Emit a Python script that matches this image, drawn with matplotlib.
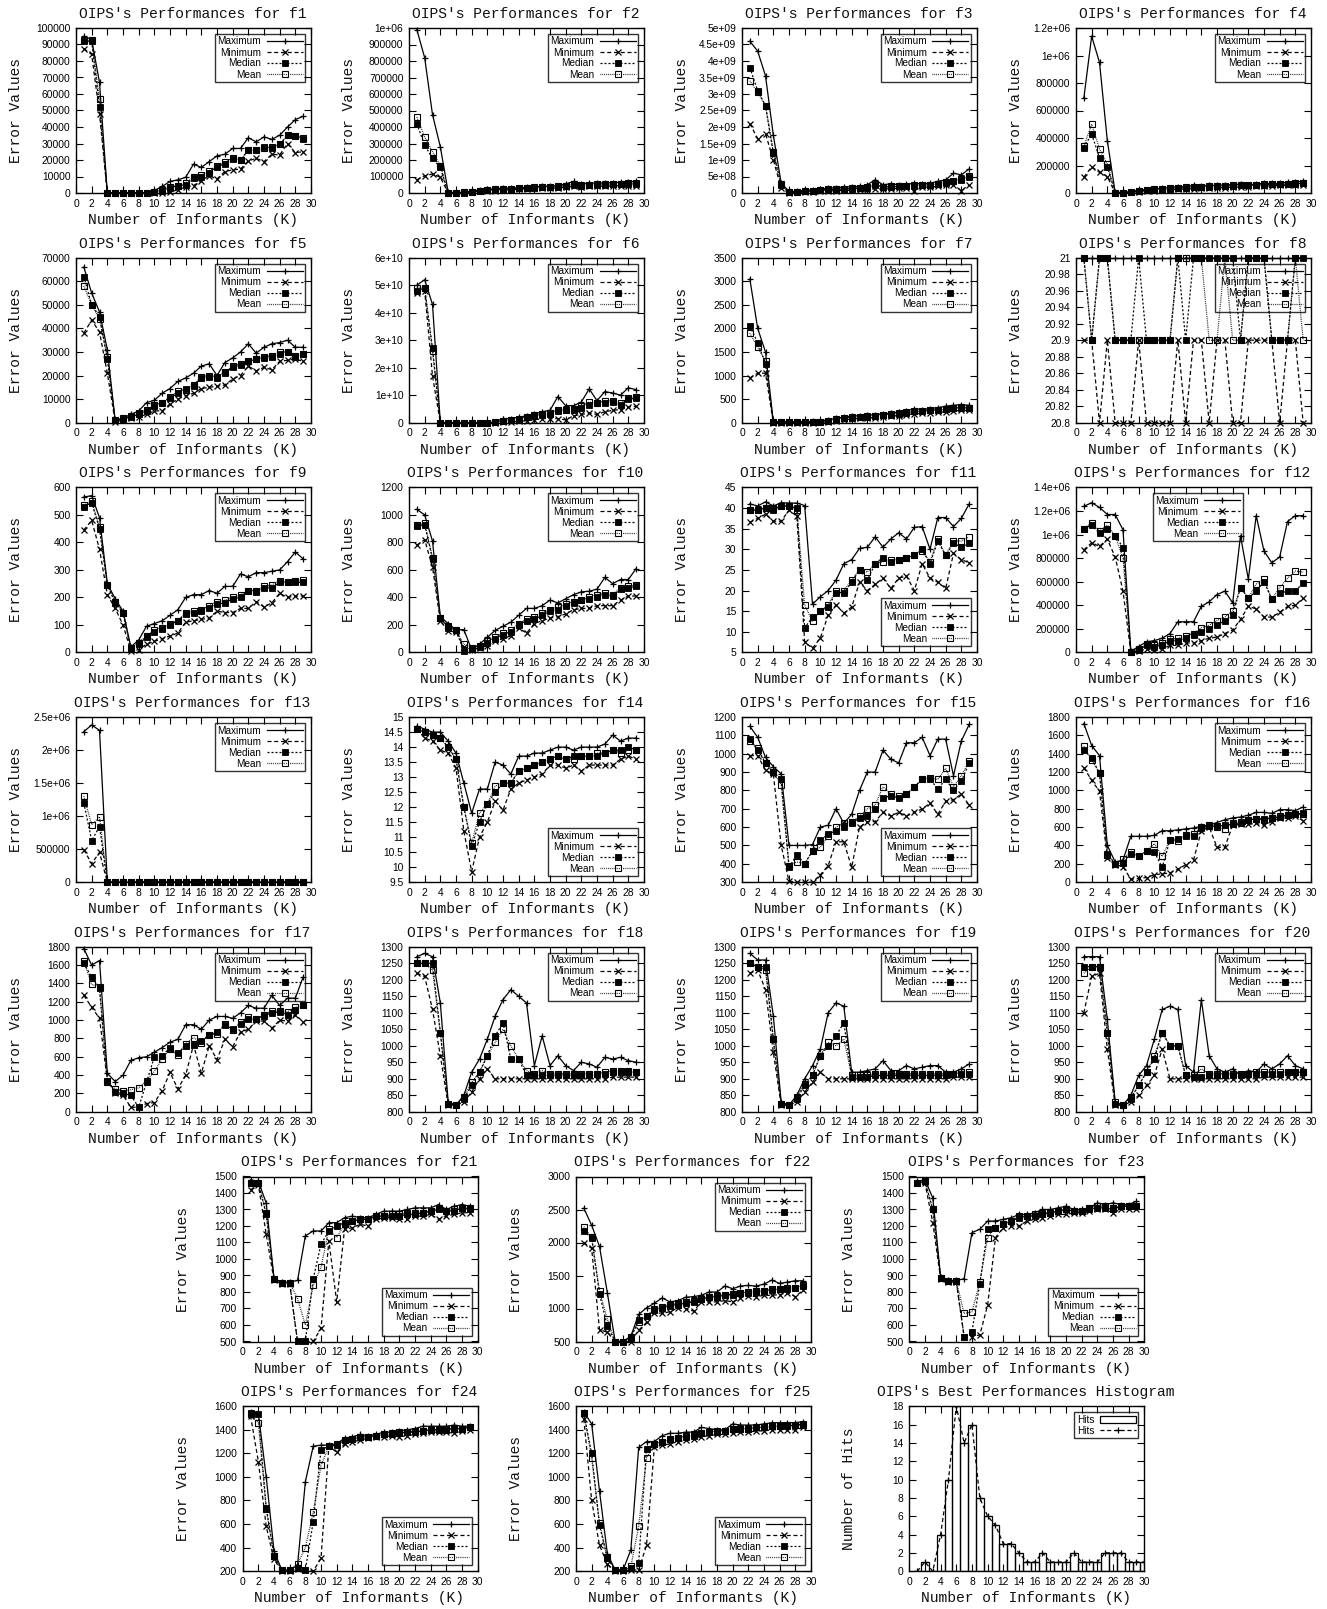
import matplotlib
matplotlib.use("Agg")
import matplotlib.pyplot as plt
from matplotlib.patches import Rectangle
from matplotlib.ticker import FuncFormatter

# ---------------- data (K = 1..29) ----------------
K = list(range(1, 30))

f1_max = [95000, 93000, 67000, 0, 0, 0, 0, 0, 0, 1500, 4000, 7000, 8000, 9500, 17500, 15500, 19000, 22500, 23500, 27000, 27000, 33500, 31000, 34000, 32500, 35000, 40000, 44500, 46500]
f1_min = [87500, 84000, 48000, 0, 0, 0, 0, 0, 0, 0, 0, 500, 2000, 3500, 4500, 7500, 10500, 8500, 13000, 14000, 14500, 19500, 21000, 19000, 23500, 23000, 30000, 24500, 25000]
f1_med = [92000, 92000, 52000, 0, 0, 0, 0, 0, 0, 500, 1500, 3000, 4500, 5000, 9000, 10000, 12000, 16000, 17500, 20500, 20000, 26000, 26000, 28000, 27500, 29500, 35000, 34500, 33000]
f1_mean = [92500, 92500, 57000, 0, 0, 0, 0, 0, 0, 800, 2000, 3500, 4500, 6000, 9500, 11000, 13500, 16500, 18500, 21500, 20000, 26000, 26000, 27000, 28000, 29500, 35000, 34500, 33500]

f2_max = [990e3, 820e3, 475e3, 280e3, 5e3, 2e3, 5e3, 12e3, 18e3, 22e3, 25e3, 30e3, 30e3, 32e3, 35e3, 38e3, 40e3, 42e3, 45e3, 55e3, 70e3, 55e3, 60e3, 60e3, 62e3, 62e3, 65e3, 68e3, 70e3]
f2_min = [80e3, 105e3, 115e3, 95e3, 0, 0, 2e3, 5e3, 10e3, 12e3, 15e3, 18e3, 20e3, 22e3, 25e3, 28e3, 28e3, 30e3, 32e3, 35e3, 40e3, 38e3, 40e3, 40e3, 42e3, 42e3, 45e3, 45e3, 45e3]
f2_med = [420e3, 290e3, 210e3, 155e3, 0, 0, 3e3, 8e3, 12e3, 18e3, 20e3, 25e3, 25e3, 28e3, 30e3, 32e3, 35e3, 35e3, 38e3, 42e3, 50e3, 45e3, 48e3, 50e3, 50e3, 52e3, 52e3, 55e3, 55e3]
f2_mean = [460e3, 340e3, 250e3, 165e3, 0, 0, 4e3, 9e3, 14e3, 20e3, 22e3, 27e3, 27e3, 30e3, 32e3, 34e3, 37e3, 38e3, 40e3, 45e3, 55e3, 48e3, 50e3, 52e3, 53e3, 55e3, 56e3, 58e3, 60e3]

f3_max = [46e8, 43e8, 35.5e8, 17.5e8, 3e8, 0.5e8, 0.5e8, 0.8e8, 1e8, 1.2e8, 1.5e8, 1.6e8, 1.8e8, 1.9e8, 2e8, 2.5e8, 4e8, 2.5e8, 2.8e8, 2.5e8, 2.7e8, 2.9e8, 2.8e8, 3e8, 3.5e8, 4e8, 6e8, 5.5e8, 7.3e8]
f3_min = [21e8, 16.5e8, 18e8, 10e8, 1.5e8, 0, 0.2e8, 0.3e8, 0.4e8, 0.5e8, 0.6e8, 0.7e8, 0.8e8, 0.8e8, 1e8, 1e8, 1.2e8, 1.2e8, 1.3e8, 1.4e8, 1.5e8, 0.5e8, 1.8e8, 1.8e8, 2e8, 2.5e8, 2.5e8, 0.7e8, 2.5e8]
f3_med = [38e8, 31e8, 26.5e8, 12e8, 2.5e8, 0.2e8, 0.3e8, 0.5e8, 0.6e8, 0.8e8, 1e8, 1.1e8, 1.2e8, 1.3e8, 1.5e8, 1.6e8, 2.5e8, 1.8e8, 1.9e8, 2e8, 2.1e8, 2.2e8, 2.3e8, 2.3e8, 2.6e8, 3e8, 3.5e8, 4e8, 5e8]
f3_mean = [34e8, 30.5e8, 26.5e8, 12.5e8, 2.7e8, 0.3e8, 0.4e8, 0.6e8, 0.7e8, 0.9e8, 1.1e8, 1.2e8, 1.3e8, 1.4e8, 1.6e8, 1.7e8, 2.6e8, 1.9e8, 2e8, 2.1e8, 2.2e8, 2.3e8, 2.4e8, 2.5e8, 2.8e8, 3.2e8, 3.7e8, 4.2e8, 5.2e8]

f4_max = [690e3, 1140e3, 950e3, 380e3, 5e3, 5e3, 10e3, 20e3, 25e3, 30e3, 35e3, 40e3, 45e3, 45e3, 55e3, 50e3, 55e3, 55e3, 60e3, 60e3, 65e3, 60e3, 65e3, 70e3, 70e3, 70e3, 80e3, 80e3, 85e3]
f4_min = [115e3, 190e3, 150e3, 120e3, 0, 0, 5e3, 10e3, 15e3, 18e3, 20e3, 25e3, 28e3, 30e3, 32e3, 35e3, 35e3, 38e3, 40e3, 42e3, 45e3, 45e3, 48e3, 50e3, 52e3, 55e3, 55e3, 58e3, 60e3]
f4_med = [330e3, 430e3, 255e3, 190e3, 2e3, 2e3, 8e3, 15e3, 20e3, 25e3, 28e3, 32e3, 35e3, 38e3, 42e3, 42e3, 45e3, 48e3, 50e3, 52e3, 55e3, 55e3, 58e3, 60e3, 62e3, 62e3, 65e3, 68e3, 70e3]
f4_mean = [340e3, 500e3, 320e3, 210e3, 3e3, 3e3, 10e3, 18e3, 23e3, 28e3, 31e3, 35e3, 38e3, 41e3, 45e3, 45e3, 48e3, 51e3, 53e3, 55e3, 58e3, 58e3, 61e3, 63e3, 65e3, 65e3, 68e3, 71e3, 73e3]

f5_max = [66e3, 55e3, 47e3, 31e3, 1e3, 2e3, 3.5e3, 5e3, 8.5e3, 9.5e3, 12.5e3, 14.5e3, 17.5e3, 19e3, 21e3, 24e3, 25e3, 20e3, 25.5e3, 27.5e3, 30e3, 33.5e3, 29.5e3, 32e3, 33.5e3, 34e3, 35e3, 32e3, 32e3]
f5_min = [38e3, 43.5e3, 38.5e3, 21e3, 0.5e3, 1e3, 2e3, 2.5e3, 3.5e3, 5e3, 5e3, 8e3, 10e3, 11.5e3, 12.5e3, 14.5e3, 15e3, 15.5e3, 16e3, 18.5e3, 20e3, 24e3, 22e3, 23.5e3, 22.5e3, 26e3, 26.5e3, 27e3, 26e3]
f5_med = [62e3, 50e3, 45e3, 27e3, 1e3, 1.5e3, 2.5e3, 3.5e3, 5e3, 7e3, 8.5e3, 10.5e3, 12.5e3, 14.5e3, 15.5e3, 19e3, 19.5e3, 19e3, 21e3, 23.5e3, 24.5e3, 26e3, 27e3, 27.5e3, 28e3, 29e3, 30e3, 28e3, 29e3]
f5_mean = [58e3, 50e3, 44e3, 28e3, 1e3, 1.8e3, 2.8e3, 4e3, 5.5e3, 7.5e3, 8.5e3, 11e3, 13.5e3, 14e3, 16e3, 19.5e3, 20e3, 19.5e3, 21.5e3, 24e3, 25e3, 26e3, 27e3, 28e3, 28.5e3, 30e3, 30e3, 28.5e3, 29e3]

f6_max = [50e9, 52e9, 43e9, 0, 0, 0, 0, 0, 0, 0, 0.3e9, 1.5e9, 1.5e9, 2e9, 2.5e9, 3.2e9, 4e9, 4.5e9, 9.5e9, 6.2e9, 6.2e9, 7.5e9, 12.3e9, 8e9, 11.3e9, 10.8e9, 10e9, 12.7e9, 12e9]
f6_min = [47e9, 48e9, 17e9, 0, 0, 0, 0, 0, 0, 0, 0, 0.2e9, 0.3e9, 0.5e9, 0.7e9, 1e9, 1.5e9, 1.5e9, 1.5e9, 1e9, 2.5e9, 3e9, 3.5e9, 3e9, 4e9, 4.5e9, 4.8e9, 5.7e9, 6e9]
f6_med = [48e9, 49e9, 27e9, 0, 0, 0, 0, 0, 0, 0, 0.1e9, 0.5e9, 1e9, 1.2e9, 2e9, 2.5e9, 2.8e9, 3.2e9, 4.2e9, 4.5e9, 4.5e9, 5.5e9, 6.5e9, 7e9, 7e9, 7.5e9, 6.5e9, 8.5e9, 9e9]
f6_mean = [49e9, 49e9, 26e9, 0, 0, 0, 0, 0, 0, 0, 0.15e9, 0.6e9, 1.1e9, 1.4e9, 2.2e9, 2.7e9, 3e9, 3.5e9, 4.5e9, 4.8e9, 5e9, 6e9, 7.5e9, 7.2e9, 7.8e9, 8e9, 7e9, 9e9, 9.2e9]

f7_max = [3050, 2000, 1500, 20, 20, 20, 20, 25, 30, 40, 60, 90, 120, 140, 150, 160, 170, 190, 200, 230, 250, 300, 280, 300, 320, 350, 370, 380, 370]
f7_min = [950, 1050, 1050, 0, 0, 0, 0, 0, 0, 10, 20, 40, 60, 80, 90, 100, 110, 120, 140, 150, 170, 190, 200, 210, 220, 230, 250, 260, 260]
f7_med = [2050, 1700, 1250, 5, 5, 5, 5, 8, 10, 20, 40, 60, 90, 110, 120, 130, 140, 160, 170, 190, 210, 240, 240, 260, 270, 290, 310, 320, 310]
f7_mean = [1900, 1600, 1300, 8, 8, 8, 8, 10, 12, 25, 45, 70, 100, 120, 130, 140, 150, 170, 180, 200, 220, 250, 250, 270, 280, 300, 320, 330, 320]

f8_max = [21, 21, 21, 21, 21, 21, 21, 21, 21, 21, 21, 21, 21, 21, 21, 21, 21, 21, 21, 21, 21, 21, 21, 21, 21, 21, 21, 21, 21]
f8_min = [20.9, 20.9, 20.8, 20.9, 20.8, 20.8, 20.8, 20.9, 20.8, 20.8, 20.8, 20.8, 20.9, 20.8, 20.9, 20.9, 20.8, 20.9, 20.9, 20.8, 20.8, 20.9, 20.9, 20.9, 20.9, 20.8, 20.9, 20.9, 20.8]
f8_med = [21, 20.9, 21, 21, 20.9, 20.9, 20.9, 21, 20.9, 20.9, 20.9, 20.9, 21, 20.9, 21, 21, 21, 21, 21, 21, 20.9, 21, 21, 21, 20.9, 20.9, 20.9, 21, 21]
f8_mean = [21, 20.9, 21, 21, 20.9, 20.9, 20.9, 20.9, 20.9, 20.9, 20.9, 20.9, 21, 21, 21, 21, 20.9, 20.9, 21, 20.9, 20.9, 21, 21, 21, 20.9, 20.9, 20.9, 21, 20.9]

f9_max = [565, 570, 490, 250, 195, 150, 20, 45, 95, 105, 115, 135, 155, 200, 210, 210, 225, 215, 240, 240, 285, 275, 290, 290, 295, 300, 330, 365, 340]
f9_min = [445, 480, 375, 210, 160, 100, 5, 10, 30, 40, 50, 60, 70, 110, 115, 120, 125, 150, 145, 145, 160, 160, 185, 165, 180, 215, 200, 205, 205]
f9_med = [530, 545, 450, 245, 180, 145, 15, 30, 55, 75, 85, 100, 115, 140, 145, 150, 160, 175, 180, 195, 200, 225, 220, 235, 235, 255, 255, 255, 255]
f9_mean = [535, 550, 455, 245, 185, 145, 15, 35, 60, 80, 90, 105, 115, 145, 150, 155, 170, 185, 190, 200, 210, 225, 225, 240, 245, 260, 255, 260, 265]

f10_max = [1040, 1000, 810, 260, 210, 165, 165, 20, 60, 110, 160, 190, 220, 270, 320, 320, 340, 380, 360, 390, 420, 440, 445, 460, 545, 500, 530, 530, 610]
f10_min = [780, 820, 620, 230, 155, 150, 40, 20, 30, 50, 80, 100, 120, 180, 140, 210, 230, 250, 260, 280, 310, 320, 320, 340, 340, 340, 380, 410, 410]
f10_med = [920, 930, 680, 250, 180, 160, 10, 25, 40, 70, 100, 130, 150, 200, 230, 240, 270, 300, 310, 340, 360, 380, 390, 400, 420, 410, 460, 470, 480]
f10_mean = [930, 940, 690, 250, 190, 160, 60, 30, 50, 80, 110, 140, 160, 210, 240, 260, 290, 310, 330, 350, 370, 380, 400, 420, 430, 420, 470, 480, 490]

f11_max = [41, 40.5, 41.5, 40.5, 41.3, 41.2, 41.2, 40.6, 16.7, 18.5, 20, 22.5, 26.5, 27.5, 30.2, 30.5, 33, 30.5, 32.5, 34, 32.5, 35.3, 35.5, 30, 37.7, 37.7, 35.5, 37.5, 41]
f11_min = [36.5, 37.5, 38.5, 36.8, 36.8, 39.5, 38, 7.5, 6, 8.5, 14, 16.5, 14.5, 16, 22, 20, 21.5, 23, 20.5, 23, 23.5, 20, 26.5, 23, 22, 20.5, 29, 27.5, 26.7]
f11_med = [39.5, 39.5, 40, 39.5, 40.5, 40.5, 40, 11, 13.5, 15, 16, 19.5, 19.5, 22, 25, 22.5, 26.5, 28, 27, 27.5, 28, 28.5, 30, 26.5, 32, 28.5, 31.5, 30.5, 31.5]
f11_mean = [39.5, 39.5, 40, 40, 40.5, 40.5, 39.5, 16.5, 12.5, 15, 16.5, 20, 20, 22.5, 25, 24.5, 26.5, 27, 27.5, 27.5, 28, 28.5, 29.5, 27, 32.5, 28.5, 32, 32, 33]

f12_max = [1240e3, 1270e3, 1230e3, 1170e3, 1170e3, 1040e3, 10e3, 50e3, 90e3, 100e3, 120e3, 160e3, 260e3, 260e3, 260e3, 390e3, 430e3, 490e3, 520e3, 420e3, 990e3, 620e3, 1160e3, 860e3, 760e3, 810e3, 1110e3, 1160e3, 1160e3]
f12_min = [870e3, 930e3, 900e3, 960e3, 810e3, 520e3, 0, 10e3, 30e3, 20e3, 30e3, 60e3, 60e3, 80e3, 80e3, 100e3, 120e3, 130e3, 160e3, 190e3, 280e3, 390e3, 370e3, 300e3, 300e3, 340e3, 390e3, 400e3, 460e3]
f12_med = [1050e3, 1080e3, 1010e3, 1050e3, 990e3, 890e3, 0, 20e3, 60e3, 50e3, 60e3, 100e3, 100e3, 120e3, 150e3, 170e3, 200e3, 230e3, 270e3, 320e3, 550e3, 460e3, 520e3, 600e3, 450e3, 500e3, 520e3, 520e3, 590e3]
f12_mean = [1050e3, 1100e3, 1030e3, 1080e3, 990e3, 800e3, 5e3, 30e3, 70e3, 60e3, 80e3, 110e3, 120e3, 140e3, 160e3, 210e3, 230e3, 270e3, 300e3, 350e3, 550e3, 460e3, 580e3, 620e3, 450e3, 550e3, 630e3, 690e3, 680e3]

f13_max = [2280e3, 2380e3, 2300e3, 0, 0, 0, 0, 0, 0, 0, 0, 0, 0, 0, 0, 0, 0, 0, 0, 0, 0, 0, 0, 0, 0, 0, 0, 0, 0]
f13_min = [490e3, 280e3, 450e3, 0, 0, 0, 0, 0, 0, 0, 0, 0, 0, 0, 0, 0, 0, 0, 0, 0, 0, 0, 0, 0, 0, 0, 0, 0, 0]
f13_med = [1200e3, 630e3, 840e3, 0, 0, 0, 0, 0, 0, 0, 0, 0, 0, 0, 0, 0, 0, 0, 0, 0, 0, 0, 0, 0, 0, 0, 0, 0, 0]
f13_mean = [1300e3, 870e3, 990e3, 0, 0, 0, 0, 0, 0, 0, 0, 0, 0, 0, 0, 0, 0, 0, 0, 0, 0, 0, 0, 0, 0, 0, 0, 0, 0]

f14_max = [14.7, 14.6, 14.5, 14.5, 14.2, 13.8, 12.8, 11.8, 12.6, 12.6, 13.5, 13.4, 13.1, 13.7, 13.7, 13.8, 13.8, 13.9, 14, 14, 13.9, 14, 14, 14, 14.1, 14.4, 14.2, 14.3, 14.3]
f14_min = [14.6, 14.3, 14.2, 13.9, 13.8, 13.3, 11.2, 9.85, 11, 11.5, 12.2, 11.9, 12.6, 12.8, 12.9, 13, 13.1, 13.4, 13.4, 13.3, 13.4, 13.2, 13.4, 13.4, 13.4, 13.4, 13.6, 13.7, 13.6]
f14_med = [14.6, 14.5, 14.4, 14.3, 14, 13.6, 12, 10.7, 11.5, 12.1, 12.5, 12.8, 12.8, 13.2, 13.3, 13.4, 13.5, 13.6, 13.7, 13.6, 13.7, 13.7, 13.7, 13.7, 13.8, 13.9, 13.9, 14, 13.9]
f14_mean = [14.6, 14.5, 14.4, 14.3, 14, 13.6, 12, 10.8, 11.8, 12.1, 12.7, 12.8, 12.8, 13.2, 13.3, 13.4, 13.5, 13.6, 13.7, 13.6, 13.6, 13.7, 13.7, 13.8, 13.8, 13.9, 13.8, 13.9, 13.9]

f15_max = [1150, 1090, 980, 930, 890, 500, 500, 500, 505, 600, 610, 700, 620, 670, 800, 900, 900, 1020, 970, 950, 1060, 1060, 1090, 990, 1080, 1080, 880, 1070, 1160]
f15_min = [990, 990, 910, 890, 500, 305, 300, 300, 300, 340, 390, 520, 520, 380, 600, 630, 630, 680, 660, 680, 660, 680, 700, 730, 670, 740, 750, 780, 720]
f15_med = [1080, 1020, 950, 900, 860, 380, 450, 400, 470, 530, 560, 580, 600, 620, 650, 660, 700, 760, 770, 760, 780, 820, 860, 860, 810, 860, 800, 850, 950]
f15_mean = [1070, 1030, 950, 900, 830, 390, 410, 400, 470, 490, 550, 600, 620, 630, 660, 700, 720, 820, 780, 770, 780, 820, 860, 870, 860, 920, 820, 880, 960]

f16_max = [1730, 1490, 1380, 400, 220, 240, 500, 500, 500, 510, 560, 560, 570, 580, 590, 610, 620, 650, 680, 700, 710, 730, 760, 760, 750, 790, 790, 780, 820]
f16_min = [1250, 1110, 990, 260, 190, 170, 30, 40, 50, 80, 90, 100, 140, 190, 240, 560, 600, 380, 380, 620, 630, 630, 640, 620, 660, 700, 700, 720, 670]
f16_med = [1440, 1350, 1190, 310, 200, 210, 310, 280, 340, 330, 160, 460, 470, 500, 500, 590, 610, 610, 620, 630, 650, 680, 690, 690, 700, 710, 730, 740, 750]
f16_mean = [1480, 1330, 1190, 300, 200, 250, 330, 280, 340, 420, 280, 460, 450, 510, 520, 600, 620, 600, 580, 650, 660, 680, 690, 680, 700, 720, 730, 740, 740]

f17_max = [1780, 1600, 1650, 420, 330, 400, 560, 590, 600, 650, 700, 760, 790, 950, 950, 900, 1000, 1040, 1040, 1020, 1080, 1160, 1130, 1130, 1270, 1160, 1240, 1240, 1470]
f17_min = [1270, 1140, 1020, 340, 210, 180, 50, 50, 90, 100, 230, 430, 250, 400, 730, 420, 720, 570, 790, 710, 870, 900, 990, 990, 910, 1000, 990, 1060, 980]
f17_med = [1620, 1470, 1350, 340, 220, 200, 180, 50, 320, 600, 610, 700, 640, 720, 730, 770, 840, 870, 950, 900, 960, 1010, 1010, 1050, 1080, 1090, 1060, 1110, 1160]
f17_mean = [1640, 1390, 1360, 320, 250, 230, 240, 260, 340, 440, 580, 680, 620, 740, 810, 750, 840, 850, 960, 890, 980, 1030, 1010, 1060, 1100, 1100, 1090, 1140, 1160]

f18_max = [1270, 1280, 1270, 1130, 830, 820, 850, 920, 960, 1020, 1090, 1140, 1170, 1150, 1130, 940, 1030, 940, 970, 940, 925, 950, 945, 935, 965, 960, 965, 955, 950]
f18_min = [1220, 1210, 1110, 970, 820, 820, 830, 860, 900, 930, 900, 900, 900, 900, 900, 900, 900, 900, 900, 900, 900, 900, 900, 900, 900, 905, 905, 905, 905]
f18_med = [1250, 1250, 1250, 1040, 825, 820, 840, 880, 920, 970, 1030, 1070, 960, 960, 910, 910, 910, 910, 910, 910, 910, 910, 910, 915, 915, 920, 920, 920, 920]
f18_mean = [1250, 1250, 1230, 1040, 825, 820, 845, 890, 920, 970, 1010, 1050, 1000, 960, 925, 915, 925, 915, 915, 915, 915, 915, 915, 915, 920, 925, 925, 925, 920]

f19_max = [1280, 1260, 1260, 1090, 830, 820, 850, 900, 940, 990, 1100, 1130, 1120, 920, 920, 925, 930, 955, 925, 925, 940, 930, 935, 940, 940, 920, 920, 930, 945]
f19_min = [1220, 1230, 1170, 980, 820, 820, 830, 860, 890, 920, 900, 900, 900, 900, 900, 900, 900, 900, 900, 900, 900, 900, 900, 900, 900, 900, 905, 905, 905]
f19_med = [1250, 1240, 1240, 1020, 825, 820, 840, 880, 910, 970, 1000, 1030, 1070, 905, 905, 905, 910, 910, 910, 910, 910, 910, 910, 910, 910, 910, 915, 915, 915]
f19_mean = [1250, 1240, 1230, 1020, 825, 820, 845, 885, 910, 970, 1010, 1000, 1020, 910, 910, 910, 915, 915, 915, 915, 915, 915, 915, 915, 915, 915, 915, 920, 920]

f20_max = [1270, 1270, 1270, 1080, 830, 820, 850, 910, 940, 1020, 1110, 1120, 1110, 940, 920, 1140, 970, 930, 920, 930, 910, 925, 920, 945, 930, 945, 970, 940, 930]
f20_min = [1100, 1210, 1220, 990, 820, 820, 830, 850, 880, 910, 990, 900, 900, 900, 900, 900, 900, 900, 900, 900, 900, 900, 900, 905, 905, 905, 905, 905, 905]
f20_med = [1240, 1240, 1240, 1040, 825, 820, 840, 880, 920, 960, 1040, 1000, 1000, 910, 905, 905, 910, 910, 910, 910, 910, 915, 915, 915, 915, 915, 920, 920, 920]
f20_mean = [1220, 1240, 1240, 1040, 830, 820, 845, 880, 920, 970, 1040, 1000, 1000, 910, 910, 930, 915, 915, 915, 915, 915, 915, 920, 920, 920, 920, 920, 920, 920]

f21_max = [1480, 1470, 1340, 880, 860, 860, 870, 1140, 1170, 1170, 1220, 1220, 1250, 1260, 1250, 1250, 1270, 1290, 1290, 1290, 1300, 1310, 1310, 1310, 1330, 1300, 1320, 1330, 1320]
f21_min = [1420, 1450, 1150, 870, 850, 850, 500, 500, 500, 580, 1110, 740, 1180, 1190, 1210, 1200, 1240, 1250, 1250, 1240, 1240, 1260, 1260, 1270, 1240, 1260, 1270, 1280, 1280]
f21_med = [1460, 1460, 1270, 880, 855, 855, 500, 500, 880, 1090, 1170, 1200, 1220, 1230, 1240, 1240, 1260, 1260, 1260, 1260, 1270, 1270, 1280, 1290, 1300, 1290, 1290, 1310, 1300]
f21_mean = [1460, 1460, 1280, 880, 855, 855, 760, 600, 840, 950, 1180, 1130, 1210, 1230, 1240, 1240, 1260, 1260, 1270, 1270, 1280, 1280, 1280, 1290, 1310, 1290, 1300, 1310, 1310]

f22_max = [2520, 2260, 1940, 1240, 500, 500, 580, 910, 1010, 1080, 1160, 1100, 1120, 1170, 1180, 1200, 1250, 1250, 1340, 1300, 1340, 1350, 1340, 1370, 1430, 1380, 1400, 1420, 1420]
f22_min = [2000, 1910, 680, 640, 500, 500, 500, 670, 790, 930, 930, 950, 1010, 1000, 960, 1100, 1100, 1100, 1120, 1100, 1160, 1190, 1180, 1200, 1200, 1210, 1240, 1180, 1280]
f22_med = [2170, 2070, 1220, 730, 500, 500, 560, 820, 890, 980, 1010, 1040, 1060, 1080, 1100, 1140, 1170, 1180, 1200, 1210, 1230, 1240, 1250, 1260, 1280, 1290, 1300, 1310, 1340]
f22_mean = [2240, 2080, 1260, 840, 500, 500, 570, 800, 890, 1000, 1020, 1060, 1080, 1100, 1110, 1140, 1180, 1190, 1210, 1220, 1240, 1250, 1260, 1270, 1290, 1290, 1310, 1310, 1350]

f23_max = [1470, 1480, 1370, 890, 870, 870, 880, 1160, 1180, 1230, 1230, 1240, 1250, 1270, 1270, 1280, 1300, 1300, 1310, 1320, 1300, 1300, 1310, 1340, 1330, 1340, 1330, 1330, 1350]
f23_min = [1460, 1460, 1220, 880, 860, 860, 530, 530, 540, 720, 1130, 1190, 1200, 1200, 1230, 1240, 1250, 1260, 1270, 1270, 1280, 1280, 1290, 1300, 1300, 1280, 1300, 1300, 1300]
f23_med = [1460, 1470, 1300, 885, 865, 865, 530, 560, 850, 1180, 1190, 1210, 1230, 1250, 1260, 1260, 1270, 1280, 1290, 1300, 1290, 1290, 1300, 1310, 1310, 1300, 1320, 1320, 1320]
f23_mean = [1460, 1470, 1300, 885, 865, 865, 670, 680, 860, 1130, 1190, 1210, 1230, 1260, 1260, 1270, 1280, 1280, 1290, 1300, 1290, 1290, 1310, 1320, 1320, 1310, 1320, 1320, 1320]

f24_max = [1550, 1540, 1000, 370, 210, 210, 250, 960, 1260, 1270, 1270, 1280, 1330, 1340, 1360, 1350, 1360, 1380, 1380, 1390, 1400, 1410, 1430, 1430, 1430, 1430, 1440, 1430, 1430]
f24_min = [1520, 1130, 580, 300, 200, 200, 220, 210, 200, 310, 1260, 1210, 1280, 1300, 1310, 1330, 1340, 1340, 1350, 1340, 1350, 1360, 1370, 1380, 1380, 1380, 1370, 1390, 1400]
f24_med = [1540, 1530, 740, 330, 210, 210, 230, 210, 620, 1230, 1260, 1270, 1310, 1320, 1340, 1340, 1350, 1360, 1360, 1370, 1380, 1380, 1390, 1400, 1400, 1400, 1410, 1410, 1420]
f24_mean = [1530, 1460, 730, 330, 210, 210, 260, 400, 700, 1100, 1260, 1280, 1310, 1320, 1340, 1340, 1350, 1360, 1370, 1380, 1380, 1390, 1390, 1400, 1400, 1410, 1410, 1410, 1420]

f25_max = [1550, 1450, 880, 350, 210, 210, 380, 1250, 1300, 1300, 1350, 1370, 1370, 1380, 1380, 1420, 1410, 1400, 1400, 1450, 1440, 1440, 1440, 1450, 1460, 1460, 1460, 1460, 1470]
f25_min = [1490, 800, 420, 260, 200, 200, 210, 210, 420, 1250, 1270, 1280, 1300, 1310, 1320, 1340, 1350, 1360, 1360, 1370, 1380, 1380, 1390, 1390, 1400, 1400, 1400, 1400, 1420]
f25_med = [1540, 1200, 590, 310, 210, 210, 230, 270, 1240, 1280, 1300, 1320, 1330, 1340, 1350, 1370, 1380, 1380, 1390, 1410, 1410, 1410, 1420, 1420, 1430, 1430, 1430, 1440, 1450]
f25_mean = [1540, 1160, 610, 320, 210, 210, 240, 580, 1160, 1280, 1300, 1320, 1330, 1350, 1360, 1370, 1380, 1390, 1390, 1410, 1410, 1410, 1420, 1420, 1430, 1430, 1440, 1440, 1440]

hist_k = list(range(1, 31))
hist_hits = [0, 1, 0, 4, 10, 18, 14, 16, 8, 6, 5, 3, 3, 2, 1, 1, 2, 1, 1, 1, 2, 1, 1, 1, 2, 2, 2, 1, 1, 1]

SERIES_LABELS = ["Maximum", "Minimum", "Median", "Mean"]

# name, series, (ymin, ymax, ystep), legend placement
PANELS = [
    ("f1", (f1_max, f1_min, f1_med, f1_mean), (0, 100000, 10000), "ur"),
    ("f2", (f2_max, f2_min, f2_med, f2_mean), (0, 1e6, 1e5), "ur"),
    ("f3", (f3_max, f3_min, f3_med, f3_mean), (0, 5e9, 5e8), "ur"),
    ("f4", (f4_max, f4_min, f4_med, f4_mean), (0, 1.2e6, 2e5), "ur"),
    ("f5", (f5_max, f5_min, f5_med, f5_mean), (0, 70000, 10000), "ur"),
    ("f6", (f6_max, f6_min, f6_med, f6_mean), (0, 6e10, 1e10), "ur"),
    ("f7", (f7_max, f7_min, f7_med, f7_mean), (0, 3500, 500), "ur"),
    ("f8", (f8_max, f8_min, f8_med, f8_mean), (20.8, 21, 0.02), "ur"),
    ("f9", (f9_max, f9_min, f9_med, f9_mean), (0, 600, 100), "ur"),
    ("f10", (f10_max, f10_min, f10_med, f10_mean), (0, 1200, 200), "ur"),
    ("f11", (f11_max, f11_min, f11_med, f11_mean), (5, 45, 5), "lr"),
    ("f12", (f12_max, f12_min, f12_med, f12_mean), (0, 1.4e6, 2e5), "uc"),
    ("f13", (f13_max, f13_min, f13_med, f13_mean), (0, 2.5e6, 5e5), "ur"),
    ("f14", (f14_max, f14_min, f14_med, f14_mean), (9.5, 15, 0.5), "lr"),
    ("f15", (f15_max, f15_min, f15_med, f15_mean), (300, 1200, 100), "lr"),
    ("f16", (f16_max, f16_min, f16_med, f16_mean), (0, 1800, 200), "ur"),
    ("f17", (f17_max, f17_min, f17_med, f17_mean), (0, 1800, 200), "ur"),
    ("f18", (f18_max, f18_min, f18_med, f18_mean), (800, 1300, 50), "ur"),
    ("f19", (f19_max, f19_min, f19_med, f19_mean), (800, 1300, 50), "ur"),
    ("f20", (f20_max, f20_min, f20_med, f20_mean), (800, 1300, 50), "ur"),
    ("f21", (f21_max, f21_min, f21_med, f21_mean), (500, 1500, 100), "lr"),
    ("f22", (f22_max, f22_min, f22_med, f22_mean), (500, 3000, 500), "ur"),
    ("f23", (f23_max, f23_min, f23_med, f23_mean), (500, 1500, 100), "lr"),
    ("f24", (f24_max, f24_min, f24_med, f24_mean), (200, 1600, 200), "lr"),
    ("f25", (f25_max, f25_min, f25_med, f25_mean), (200, 1600, 200), "lr"),
]

for name, series, _, _ in PANELS:
    for s in series:
        assert len(s) == len(K), (name, len(s))

# ---------------- layout (pixels) ----------------
FIG_W, FIG_H = 1327, 1609
AX_W, AX_H = 235, 165
COL_X = [76, 409, 742, 1076]
COL_X_OFF = [242.7, 576, 909.3]
ROW_PITCH = 229.7
ROW_Y0 = 28

MONO = ["Liberation Mono", "DejaVu Sans Mono"]
SANS = ["Liberation Sans", "DejaVu Sans"]

STYLES = {
    "Maximum": dict(ls="-", marker="+", ms=5, mew=0.9),
    "Minimum": dict(ls=(0, (3.2, 2.2)), marker="x", ms=3.8, mew=0.9),
    "Median": dict(ls=(0, (1.6, 1.6)), marker="s", ms=3.8, mfc="black", mew=0.6),
    "Mean": dict(ls=(0, (0.6, 0.9)), marker="s", ms=4.4, mfc="none", mew=0.8),
}

plt.rcParams.update({
    "font.family": SANS,
    "axes.linewidth": 1.0,
    "lines.linewidth": 0.9,
})

fig = plt.figure(figsize=(FIG_W / 100, FIG_H / 100), dpi=100)


def fx(px):
    return px / FIG_W


def fy(py):
    return 1 - py / FIG_H


def g_fmt(v, _pos):
    return "%g" % round(v, 6)


def make_axes(left, top, title, ylabel):
    ax = fig.add_axes([fx(left), fy(top + AX_H), AX_W / FIG_W, AX_H / FIG_H])
    cx = left + AX_W / 2
    fig.text(fx(cx - 1), fy(top - 14), title, ha="center", va="center",
             family=MONO, fontsize=10.5, color="#111111")
    fig.text(fx(cx - 1), fy(top + AX_H + 27), "Number of Informants (K)",
             ha="center", va="center", family=MONO, fontsize=10.5, color="#111111")
    fig.text(fx(left - 60), fy(top + AX_H / 2), ylabel, ha="center",
             va="center", rotation=90, family=MONO, fontsize=10.5, color="#111111")
    ax.set_xlim(0, 30)
    ax.set_xticks(range(0, 31, 2))
    ax.tick_params(direction="in", length=5, width=0.8, top=True, right=True,
                   labelsize=7.4, pad=4)
    ax.yaxis.set_major_formatter(FuncFormatter(g_fmt))
    for lab in ax.get_xticklabels() + ax.get_yticklabels():
        lab.set_family(SANS)
    return ax


def add_legend(ax, handles, labels, where):
    kw = dict(markerfirst=False, fancybox=False, edgecolor="black",
              facecolor="none", handlelength=3.6, handletextpad=0.55,
              labelspacing=0.1, borderpad=0.25, borderaxespad=0.6,
              prop={"family": SANS, "size": 7.2})
    if where == "ur":
        leg = ax.legend(handles, labels, loc="upper right", **kw)
    elif where == "lr":
        leg = ax.legend(handles, labels, loc="lower right", **kw)
    else:
        leg = ax.legend(handles, labels, loc="upper left",
                        bbox_to_anchor=(0.3, 1.0), **kw)
    leg.get_frame().set_linewidth(1.0)


for i, (name, series, (ylo, yhi, ystep), where) in enumerate(PANELS):
    if i < 20:
        left = COL_X[i % 4]
        top = ROW_Y0 + ROW_PITCH * (i // 4)
    elif i < 23:
        left = COL_X_OFF[i - 20]
        top = ROW_Y0 + ROW_PITCH * 5
    else:
        left = COL_X_OFF[i - 23]
        top = ROW_Y0 + ROW_PITCH * 6
    ax = make_axes(left, top, f"OIPS's Performances for {name}", "Error Values")
    handles = []
    for lab, s in zip(SERIES_LABELS, series):
        ln, = ax.plot(K, s, color="black", clip_on=False, **STYLES[lab])
        handles.append(ln)
    n = int(round((yhi - ylo) / ystep))
    ax.set_yticks([ylo + j * ystep for j in range(n + 1)])
    ax.set_ylim(ylo, yhi)
    add_legend(ax, handles, SERIES_LABELS, where)

# ---------------- histogram panel ----------------
ax = make_axes(COL_X_OFF[2], ROW_Y0 + ROW_PITCH * 6,
               "OIPS's Best Performances Histogram", "Number of Hits")
ax.bar(hist_k, hist_hits, width=1.0, fill=False, edgecolor="black", linewidth=0.9)
hl, = ax.plot(hist_k, hist_hits, color="black", ls=(0, (3.2, 2.2)),
              marker="+", ms=5, mew=0.9)
ax.set_yticks(range(0, 19, 2))
ax.set_ylim(0, 18)
box = Rectangle((0, 0), 1, 1, fill=False, edgecolor="black", linewidth=0.9)
add_legend(ax, [box, hl], ["Hits", "Hits"], "ur")

fig.savefig("out.png", dpi=100)
